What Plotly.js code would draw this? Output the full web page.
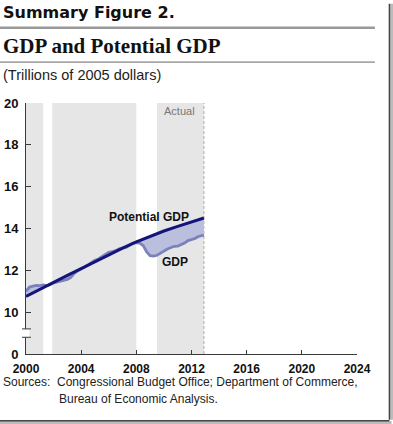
<!DOCTYPE html>
<html>
<head>
<meta charset="utf-8">
<script src="https://cdn.plot.ly/plotly-3.0.1.min.js"></script>
<style>
html,body{margin:0;padding:0;background:#fff;}
#chart{width:393px;height:424px;}
</style>
</head>
<body>
<div id="chart"></div>
<script>
// Potential GDP (trillions of 2005 dollars), annual points
const potYears = [2000, 2001, 2002, 2003, 2004, 2005, 2006, 2007, 2008, 2009, 2010, 2011, 2012, 2012.9];
const potValues = [10.75, 11.10, 11.43, 11.76, 12.08, 12.42, 12.75, 13.06, 13.36, 13.63, 13.88, 14.10, 14.32, 14.50];

// Actual GDP, quarterly
const gdpDates = [
  2000.0, 2000.25, 2000.5, 2000.75,
  2001.0, 2001.25, 2001.5, 2001.75,
  2002.0, 2002.25, 2002.5, 2002.75,
  2003.0, 2003.25, 2003.5, 2003.75,
  2004.0, 2004.25, 2004.5, 2004.75,
  2005.0, 2005.25, 2005.5, 2005.75,
  2006.0, 2006.25, 2006.5, 2006.75,
  2007.0, 2007.25, 2007.5, 2007.75,
  2008.0, 2008.25, 2008.5, 2008.75,
  2009.0, 2009.25, 2009.5, 2009.75,
  2010.0, 2010.25, 2010.5, 2010.75,
  2011.0, 2011.25, 2011.5, 2011.75,
  2012.0, 2012.25, 2012.5, 2012.9
];
const gdpValues = [
  11.00, 11.20, 11.24, 11.28,
  11.27, 11.30, 11.27, 11.31,
  11.40, 11.45, 11.50, 11.52,
  11.57, 11.66, 11.86, 11.98,
  12.06, 12.16, 12.26, 12.37,
  12.48, 12.54, 12.65, 12.72,
  12.86, 12.90, 12.94, 13.03,
  13.05, 13.10, 13.20, 13.30,
  13.32, 13.30, 13.18, 12.88,
  12.70, 12.68, 12.72, 12.84,
  12.92, 13.02, 13.10, 13.15,
  13.16, 13.24, 13.30, 13.42,
  13.48, 13.52, 13.62, 13.68
];

// Shaded (non-recession) periods
const bandStarts = [2000.0, 2001.9, 2009.5];
const bandEnds = [2001.25, 2008.0, 2012.9];
const actualEnd = 2012.9;

const yTickVals = [8, 10, 12, 14, 16, 18, 20];
const yTickText = ['0', '10', '12', '14', '16', '18', '20'];
const xTickVals = [2000, 2004, 2008, 2012, 2016, 2020, 2024];

const AX = '#3a3a3a';
const shapes = [];
for (let i = 0; i < bandStarts.length; i++) {
  shapes.push({type:'rect', xref:'x', yref:'y', x0:bandStarts[i], x1:bandEnds[i], y0:8, y1:20,
    fillcolor:'#e6e6e6', line:{width:0}, layer:'below'});
}
shapes.push({type:'line', xref:'x', yref:'y', x0:actualEnd, x1:actualEnd, y0:8, y1:20,
  line:{color:'#aaaaaa', width:1, dash:'3px,2px'}, layer:'below'});
// axis break
shapes.push({type:'rect', xref:'paper', yref:'y', x0:-0.01, x1:0.01, y0:8.8, y1:9.2,
  fillcolor:'#ffffff', line:{width:0}, layer:'above'});
shapes.push({type:'line', xref:'paper', yref:'y', x0:-0.012, x1:0.015, y0:9.2, y1:9.2, line:{color:AX, width:1}});
shapes.push({type:'line', xref:'paper', yref:'y', x0:-0.012, x1:0.015, y0:8.8, y1:8.8, line:{color:AX, width:1}});
// header rules
shapes.push({type:'line', xref:'paper', yref:'paper', x0:-0.079, x1:1.054, y0:1.3, y1:1.3, line:{color:'#999999', width:2.5}});
shapes.push({type:'line', xref:'paper', yref:'paper', x0:-0.079, x1:1.054, y0:1.163, y1:1.163, line:{color:'#666666', width:1}});
// frame (right and bottom edges with soft shadow)
shapes.push({type:'line', xref:'paper', yref:'paper', x0:1.1045, x1:1.1045, y0:-0.262, y1:1.395, line:{color:'#bbbbbb', width:3}});
shapes.push({type:'line', xref:'paper', yref:'paper', x0:1.098, x1:1.098, y0:-0.262, y1:1.395, line:{color:'#444444', width:1.5}});
shapes.push({type:'line', xref:'paper', yref:'paper', x0:-0.079, x1:1.1045, y0:-0.273, y1:-0.273, line:{color:'#bbbbbb', width:3}});
shapes.push({type:'line', xref:'paper', yref:'paper', x0:-0.079, x1:1.098, y0:-0.266, y1:-0.266, line:{color:'#444444', width:1.5}});

const traces = [
  {x: potYears, y: potValues, type:'scatter', mode:'lines', line:{width:0, color:'rgba(0,0,0,0)'}, hoverinfo:'skip', showlegend:false},
  {x: gdpDates, y: gdpValues, type:'scatter', mode:'lines', fill:'tonexty', fillcolor:'#b9bfdc',
   line:{color:'#7b81b9', width:2.8}, showlegend:false},
  {x: potYears, y: potValues, type:'scatter', mode:'lines', line:{color:'#14147a', width:3}, showlegend:false}
];

const layout = {
  width: 393, height: 424,
  margin: {l: 26, r: 36, t: 103, b: 70},
  paper_bgcolor: '#ffffff', plot_bgcolor: '#ffffff',
  showlegend: false,
  xaxis: {range:[2000, 2024], tickvals: xTickVals, ticktext: xTickVals.map(String),
    showgrid:false, zeroline:false, showline:true, linecolor:AX, linewidth:1,
    ticks:'inside', ticklen:4, tickcolor:AX, ticklabelstandoff:4,
    tickfont:{family:'Liberation Sans, Arial, sans-serif', size:12, color:'#111', weight:'bold'}},
  yaxis: {range:[8, 20], tickvals: yTickVals, ticktext: yTickText,
    showgrid:false, zeroline:false, showline:true, linecolor:AX, linewidth:1,
    ticks:'inside', ticklen:5, tickcolor:AX, ticklabelstandoff:4,
    tickfont:{family:'Liberation Sans, Arial, sans-serif', size:13, color:'#111', weight:'bold'}},
  shapes: shapes,
  annotations: [
    {text:'<b>Summary Figure 2.</b>', xref:'paper', yref:'paper', x:-0.075, y:1.36, xanchor:'left', yanchor:'middle', showarrow:false,
     font:{family:'DejaVu Sans, sans-serif', size:16, color:'#111'}},
    {text:'<b>GDP and Potential GDP</b>', xref:'paper', yref:'paper', x:-0.075, y:1.228, xanchor:'left', yanchor:'middle', showarrow:false,
     font:{family:'Liberation Serif, serif', size:21, color:'#111'}},
    {text:'(Trillions of 2005 dollars)', xref:'paper', yref:'paper', x:-0.075, y:1.11, xanchor:'left', yanchor:'middle', showarrow:false,
     font:{family:'Liberation Sans Narrow, Liberation Sans, sans-serif', size:14.5, color:'#222'}},
    {text:'Actual', xref:'x', yref:'y', x:2011.1, y:19.6, xanchor:'center', yanchor:'middle', showarrow:false,
     font:{family:'Liberation Sans Narrow, Liberation Sans, sans-serif', size:11, color:'#777'}},
    {text:'<b>Potential GDP</b>', xref:'x', yref:'y', x:2008.9, y:14.55, xanchor:'center', yanchor:'middle', showarrow:false,
     font:{family:'Liberation Sans, Arial, sans-serif', size:12, color:'#111'}},
    {text:'<b>GDP</b>', xref:'x', yref:'y', x:2010.8, y:12.4, xanchor:'center', yanchor:'middle', showarrow:false,
     font:{family:'Liberation Sans, Arial, sans-serif', size:12, color:'#111'}},
    {text:'Sources:  Congressional Budget Office; Department of Commerce,', xref:'paper', yref:'paper', x:-0.075, y:-0.11, xanchor:'left', yanchor:'middle', showarrow:false,
     font:{family:'Liberation Sans, Arial, sans-serif', size:12, color:'#222'}},
    {text:'Bureau of Economic Analysis.', xref:'paper', yref:'paper', x:0.094, y:-0.178, xanchor:'left', yanchor:'middle', showarrow:false,
     font:{family:'Liberation Sans, Arial, sans-serif', size:12, color:'#222'}}
  ]
};

Plotly.newPlot('chart', traces, layout, {displayModeBar:false, staticPlot:true});
</script>
</body>
</html>
